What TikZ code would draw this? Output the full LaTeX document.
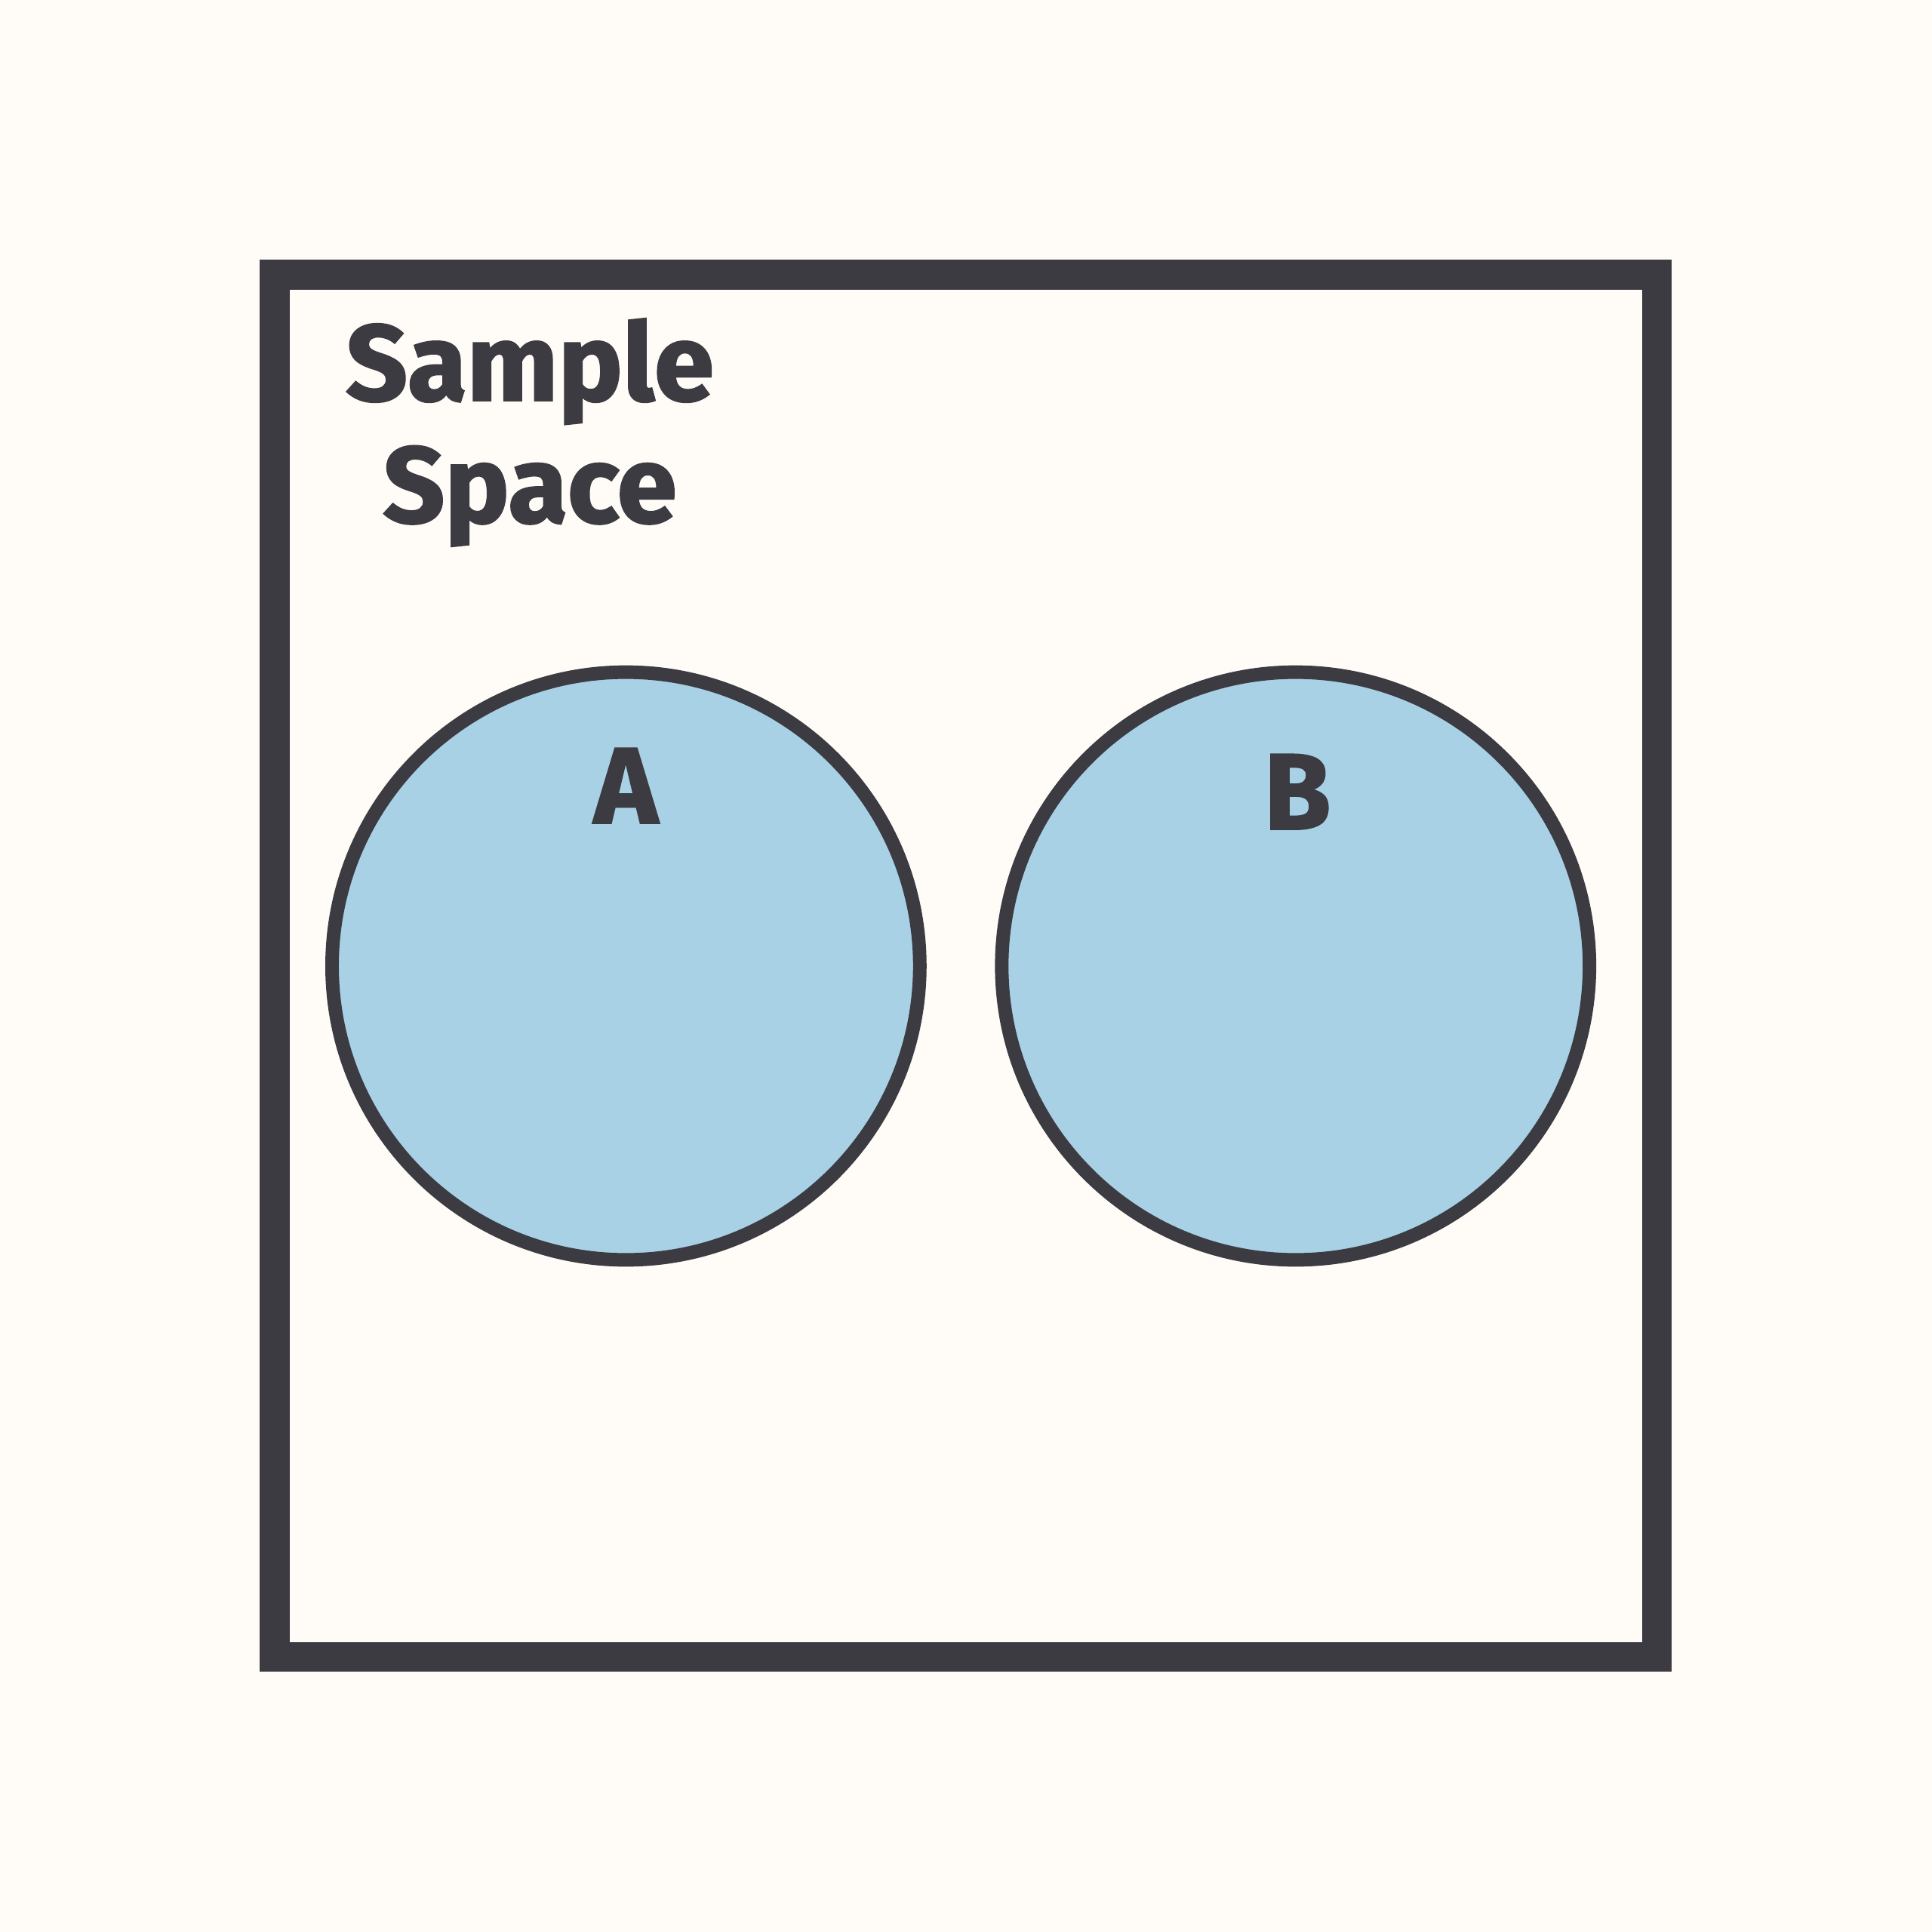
\documentclass[tikz,border=0pt]{standalone}
\usepackage{fontspec}
\setmainfont{Fira Sans}[BoldFeatures={FakeBold=1.6}]
\definecolor{bgc}{HTML}{FFFCF7}
\definecolor{ink}{HTML}{3C3B42}
\definecolor{fillc}{HTML}{A8D1E6}
\begin{document}
\begin{tikzpicture}[x=1bp,y=-1bp,
  setcircle/.style={draw=ink,line width=11bp,fill=fillc},
  lbl/.style={text=ink,font=\fontsize{88}{100}\selectfont\bfseries,inner sep=0pt,anchor=base}]
\fill[bgc] (0,0) rectangle (1568,1568);
\useasboundingbox (0,0) rectangle (1568,1568);
\draw[ink,line width=24.4bp] (223,223) rectangle (1344.7,1344.7);
\node[lbl] (t1) at (430,325) {Sample};
\node[lbl] (t2) at (430,424) {Space};
\path[setcircle] (508,784) circle (238.5);
\path[setcircle] (1051.5,784) circle (238.5);
\node[lbl] (a) at (508,668) {A};
\node[lbl] (b) at (1053,673) {B};
\end{tikzpicture}
\end{document}
